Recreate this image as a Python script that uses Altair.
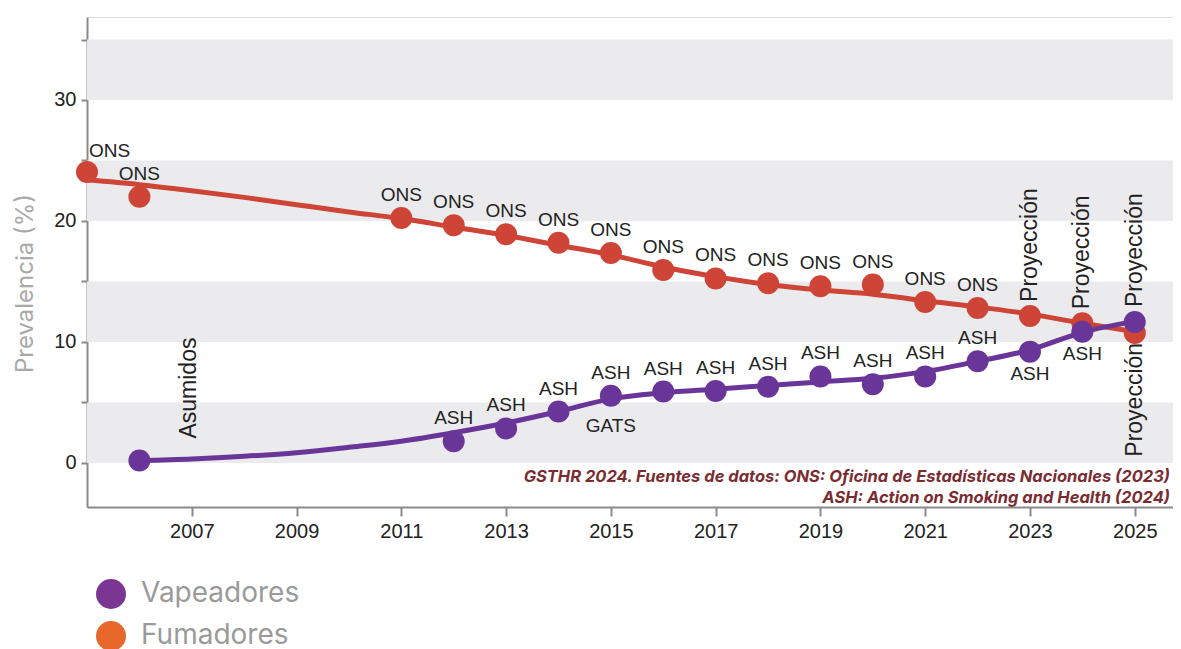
import altair as alt
import pandas as pd

# ---------------- data ----------------
smoker_years = [2005, 2006, 2011, 2012, 2013, 2014, 2015, 2016, 2017, 2018,
                2019, 2020, 2021, 2022, 2023, 2024, 2025]
smoker_values = [24.05, 22.0, 20.25, 19.65, 18.9, 18.2, 17.35, 15.95, 15.25,
                 14.85, 14.6, 14.75, 13.3, 12.8, 12.15, 11.55, 10.75]
smoker_sources = ["ONS"] * 14 + ["Proyección"] * 3

vaper_years = [2006, 2012, 2013, 2014, 2015, 2016, 2017, 2018, 2019, 2020,
               2021, 2022, 2023, 2024, 2025]
vaper_values = [0.2, 1.8, 2.85, 4.25, 5.55, 5.9, 5.95, 6.3, 7.15, 6.5,
                7.15, 8.4, 9.2, 10.85, 11.65]
vaper_sources = ["Asumidos"] + ["ASH"] * 13 + ["Proyección"]

gats_years = [2015]
gats_values = [5.55]
gats_labels = ["GATS"]

smoker_trend_years = list(range(2005, 2026))
smoker_trend = [23.4, 23.0, 22.5, 21.95, 21.35, 20.75, 20.2, 19.5, 18.8, 18.0,
                17.2, 16.2, 15.4, 14.75, 14.3, 13.95, 13.4, 12.9, 12.3, 11.55, 10.85]

vaper_trend_years = list(range(2006, 2026))
vaper_trend = [0.2, 0.33, 0.55, 0.85, 1.3, 1.8, 2.5, 3.3, 4.25, 5.3,
               5.8, 6.1, 6.4, 6.7, 7.0, 7.55, 8.4, 9.35, 10.8, 11.7]

band_low = [0, 10, 20, 30]
band_high = [5, 15, 25, 35]

y_ticks = [0, 5, 10, 15, 20, 25, 30, 35]
x_ticks = [2007, 2009, 2011, 2013, 2015, 2017, 2019, 2021, 2023, 2025]

legend_names = ["Vapeadores", "Fumadores"]
legend_colors = ["#7B3593", "#E8682B"]

source_lines = ["GSTHR 2024. Fuentes de datos: ONS: Oficina de Estadísticas Nacionales (2023)",
                "ASH: Action on Smoking and Health (2024)"]

# ---------------- styling ----------------
RED = "#CE4437"
PURPLE = "#6A3598"
TXT = "#222222"
LBL_FONT = "Liberation Sans, Arial, Helvetica, sans-serif"
W, H = 1086, 490

smk = pd.DataFrame({"year": smoker_years, "value": smoker_values, "src": smoker_sources})
vap = pd.DataFrame({"year": vaper_years, "value": vaper_values, "src": vaper_sources})
gats = pd.DataFrame({"year": gats_years, "value": gats_values, "src": gats_labels})
smk_tr = pd.DataFrame({"year": smoker_trend_years, "value": smoker_trend})
vap_tr = pd.DataFrame({"year": vaper_trend_years, "value": vaper_trend})
bands = pd.DataFrame({"lo": band_low, "hi": band_high})
leg = pd.DataFrame({"serie": legend_names, "year": [2006, 2006], "value": [0, 0]})

xscale = alt.Scale(domain=[2005, 2025.73], nice=False, zero=False)
yscale = alt.Scale(domain=[-3.64, 36.86], nice=False, zero=False)

X = alt.X("year:Q", scale=xscale,
          axis=alt.Axis(values=x_ticks, format="d", title=None, grid=False,
                        tickSize=9, tickWidth=2, tickColor="#8a8a8a",
                        domainColor="#8a8a8a", domainWidth=2,
                        labelFont=LBL_FONT, labelFontSize=20, labelColor=TXT,
                        labelPadding=5, labelFlush=False))
Y = alt.Y("value:Q", scale=yscale,
          axis=alt.Axis(values=y_ticks,
                        labelExpr="datum.value % 10 == 0 ? datum.label : ''",
                        grid=False, tickSize=6, tickWidth=2, tickColor="#8a8a8a",
                        domainColor="#8a8a8a", domainWidth=2,
                        labelFont=LBL_FONT, labelFontSize=20, labelColor=TXT,
                        labelPadding=5,
                        title="Prevalencia (%)", titleFont="Inter",
                        titleFontSize=24, titleFontWeight="normal",
                        titleColor="#a9a9a9", titleAngle=270,
                        titleAlign="center", titleBaseline="middle",
                        titleX=-62, titleY=266))

band_layer = alt.Chart(bands).mark_rect(color="#EBEBED").encode(
    x=alt.value(0), x2=alt.value(W),
    y=alt.Y("lo:Q", scale=yscale), y2="hi:Q")

axis_layer = alt.Chart(smk_tr).mark_line(opacity=0).encode(x=X, y=Y)

smk_line = alt.Chart(smk_tr).mark_line(color=RED, strokeWidth=5, interpolate="monotone").encode(
    x=alt.X("year:Q", scale=xscale), y=alt.Y("value:Q", scale=yscale))
vap_line = alt.Chart(vap_tr).mark_line(color=PURPLE, strokeWidth=5, interpolate="monotone").encode(
    x=alt.X("year:Q", scale=xscale), y=alt.Y("value:Q", scale=yscale))

def pts(df, color):
    return alt.Chart(df).mark_circle(color=color, size=484, opacity=1).encode(
        x=alt.X("year:Q", scale=xscale), y=alt.Y("value:Q", scale=yscale))

def lab(df, flt, **kw):
    base = dict(font=LBL_FONT, fontSize=19, color=TXT)
    base.update(kw)
    return alt.Chart(df).transform_filter(flt).mark_text(**base).encode(
        x=alt.X("year:Q", scale=xscale), y=alt.Y("value:Q", scale=yscale),
        text="src:N")

labels = [
    lab(smk, "datum.year == 2005", align="left", baseline="alphabetic", dx=2, dy=-15),
    lab(smk, "datum.year > 2005 && datum.year < 2023", align="center", baseline="alphabetic", dy=-17),
    lab(smk, "datum.year == 2023 || datum.year == 2024", angle=270, align="left",
        baseline="middle", dx=14, fontSize=23),
    lab(smk, "datum.year == 2025", angle=270, align="right", baseline="middle",
        dx=-10, fontSize=23),
    lab(vap, "datum.year == 2006", angle=270, align="left", baseline="middle",
        dx=22, dy=50, fontSize=23),
    lab(vap, "datum.year >= 2012 && datum.year <= 2022", align="center",
        baseline="alphabetic", dy=-17),
    lab(vap, "datum.year == 2023 || datum.year == 2024", align="center",
        baseline="top", dy=13),
    lab(vap, "datum.year == 2025", angle=270, align="left", baseline="middle",
        dx=15, fontSize=23),
    lab(gats, "true", align="center", baseline="top", dy=21),
]

source_layer = alt.Chart(pd.DataFrame({"a": [0]})).mark_text(
    text=source_lines, align="right", baseline="alphabetic", lineHeight=21,
    font="Inter", fontStyle="italic", fontWeight="bold", fontSize=16.5,
    color="#7A2C31").encode(x=alt.value(W - 3), y=alt.value(465))

legend_layer = alt.Chart(leg).mark_circle(opacity=0, size=10).encode(
    x=alt.X("year:Q", scale=xscale), y=alt.Y("value:Q", scale=yscale),
    color=alt.Color("serie:N",
                    scale=alt.Scale(domain=legend_names, range=legend_colors),
                    legend=alt.Legend(title=None, orient="none", legendX=9, legendY=562,
                                      direction="vertical", symbolType="circle",
                                      symbolSize=900, symbolOpacity=1,
                                      symbolStrokeWidth=0, labelFont="Inter",
                                      labelFontSize=28, labelColor="#9a9a9a",
                                      labelOffset=15, rowPadding=12, padding=0,
                                      labelLimit=400)))

chart = alt.layer(
    band_layer, axis_layer, smk_line, vap_line, pts(smk, RED), pts(vap, PURPLE),
    *labels, source_layer, legend_layer
).properties(
    width=W, height=H,
    padding={"left": 79, "top": 9, "right": 0, "bottom": 142},
    autosize=alt.AutoSizeParams(type="none"),
).configure_view(stroke=None).configure(background="white")

chart.save("out.html", embed_options={"renderer": "svg", "actions": False})
